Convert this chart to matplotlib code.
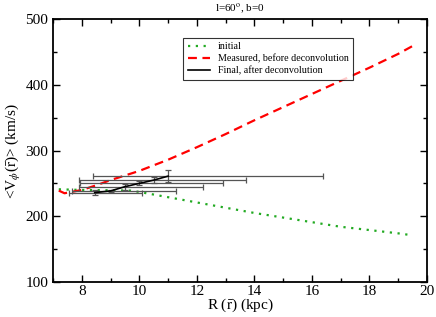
import matplotlib
matplotlib.use("Agg")
import matplotlib.pyplot as plt
import numpy as np

# --- data ---
r_initial = [7.2, 8.0, 9.0, 9.7, 10.0, 10.5, 11.0, 12.0, 13.0, 14.0, 15.0, 16.0, 17.0, 18.0, 19.0, 19.5]
v_initial = [241, 240, 239.5, 239, 237, 233, 229, 221, 213, 205, 198, 191, 184, 179, 174, 171]

r_measured = [7.2, 7.4, 8.0, 8.5, 9.0, 9.5, 10.0, 11.0, 12.0, 13.0, 14.0, 15.0, 16.0, 17.0, 18.0, 19.0, 19.5]
v_measured = [239, 235, 240, 247, 255, 262, 269, 286, 305, 325, 346, 366, 386, 406, 426, 447, 459]

r_final = [8.45, 9.0, 9.5, 10.0, 10.5, 11.0]
v_final = [236, 238.5, 245, 250, 255, 261]
r_final_lo = [7.55, 7.65, 7.9, 7.95, 7.9, 8.4]
r_final_hi = [10.1, 11.27, 12.2, 12.9, 13.7, 16.4]
v_final_err = [3.5, 2, 4.5, 3, 5, 9]

title = r"l=60$^{\rm o}$, b=0"

# --- style ---
plt.rcParams['font.family'] = 'Liberation Serif'
plt.rcParams['mathtext.fontset'] = 'stix'

fig = plt.figure(figsize=(4.36, 3.17), dpi=100)
ax = fig.add_axes([0.1216, 0.1104, 0.8578, 0.8296])

ax.plot(r_initial, v_initial, color='#22aa22', linestyle=(0, (1, 2.5)), linewidth=1.6,
        label='initial')
ax.plot(r_measured, v_measured, color='#ff0000', linestyle=(0, (4, 2.5)), linewidth=1.6,
        label='Measured, before deconvolution')

xerr = [np.array(r_final) - np.array(r_final_lo), np.array(r_final_hi) - np.array(r_final)]
ax.errorbar(r_final, v_final, xerr=xerr, yerr=v_final_err, fmt='none',
            ecolor='#555555', elinewidth=0.9, capsize=2.5, capthick=0.9)
ax.plot(r_final, v_final, color='black', linewidth=1.2, label='Final, after deconvolution')

ax.set_xlim(7, 20)
ax.set_ylim(100, 500)
ax.set_xticks([8, 10, 12, 14, 16, 18, 20])
ax.set_yticks([100, 200, 300, 400, 500])
ax.set_xticks(np.arange(7, 21, 1), minor=True)
ax.set_yticks(np.arange(100, 501, 50), minor=True)
ax.tick_params(which='both', direction='in', top=True, right=True, labelsize=11)
ax.tick_params(which='major', length=5, width=1)
ax.tick_params(which='minor', length=3, width=1)
ax.tick_params(axis='x', pad=2)
for s in ax.spines.values():
    s.set_linewidth(1.3)

ax.set_xlabel(r'R ($\bar{\rm r}$) (kpc)', fontsize=11, labelpad=-1)
ax.set_ylabel(r'<V$_\phi$($\bar{\rm r}$)> (km/s)', fontsize=11, labelpad=2)
ax.set_title(title, fontsize=8, pad=6)

leg = ax.legend(loc='upper left', bbox_to_anchor=(0.348, 0.928), borderaxespad=0,
                fontsize=7.2, frameon=True, fancybox=False, handlelength=2.2,
                labelspacing=0.25, borderpad=0.45, handletextpad=0.8)
leg.get_frame().set_edgecolor('black')
leg.get_frame().set_linewidth(0.8)

fig.savefig('out.png', dpi=100)
